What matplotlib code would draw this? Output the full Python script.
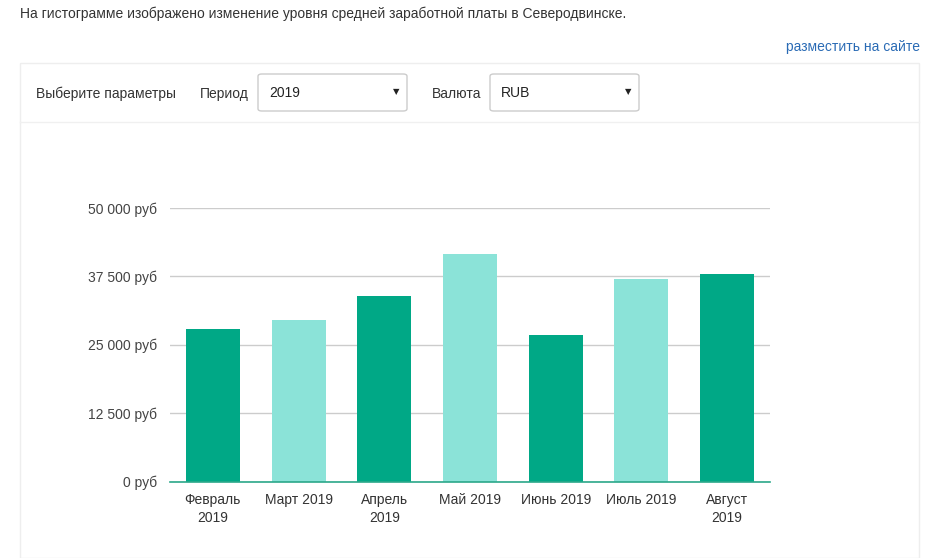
import matplotlib
matplotlib.use("Agg")
import matplotlib.pyplot as plt
from matplotlib.patches import Rectangle, FancyBboxPatch

plt.rcParams['font.family'] = ['Liberation Sans', 'DejaVu Sans']

categories = ["Февраль\n2019", "Март 2019", "Апрель\n2019", "Май 2019",
              "Июнь 2019", "Июль 2019", "Август\n2019"]
values = [27800, 29500, 33850, 41550, 26750, 36950, 37950]
bar_colors = ["#00a886", "#8be3d8", "#00a886", "#8be3d8",
              "#00a886", "#8be3d8", "#00a886"]
yticks = [0, 12500, 25000, 37500, 50000]
ytick_labels = ["0 руб", "12 500 руб", "25 000 руб", "37 500 руб", "50 000 руб"]

W, H = 949, 558
FS = 10.0
fig = plt.figure(figsize=(W / 100, H / 100), dpi=100)
fig.patch.set_facecolor("white")

def fx(x):
    return x / W

def fy(y):
    return 1 - y / H

# Header text
fig.text(fx(20), fy(14), "На гистограмме изображено изменение уровня средней заработной платы в Северодвинске.",
         fontsize=FS, color="#333333", ha="left", va="center")
fig.text(fx(920), fy(47), "разместить на сайте", fontsize=FS, color="#2a6bb5",
         ha="right", va="center")

# Panel border
fig.patches.append(Rectangle((fx(20), fy(558)), fx(899), fy(63) - fy(558),
                             transform=fig.transFigure, fill=False,
                             edgecolor="#eeeeee", linewidth=1))
fig.add_artist(plt.Line2D([fx(20), fx(919)], [fy(122), fy(122)],
                          transform=fig.transFigure, color="#f0f0f0", linewidth=1))

fig.text(fx(36), fy(94), "Выберите параметры", fontsize=FS, color="#333333", ha="left", va="center")
fig.text(fx(200), fy(94), "Период", fontsize=FS, color="#333333", ha="left", va="center")
fig.text(fx(432), fy(94), "Валюта", fontsize=FS, color="#333333", ha="left", va="center")

def select_box(x0, x1, label):
    box = FancyBboxPatch((fx(x0), fy(111)), fx(x1 - x0), fy(74) - fy(111),
                         boxstyle="round,pad=0,rounding_size=0.004",
                         transform=fig.transFigure, facecolor="white",
                         edgecolor="#cccccc", linewidth=1)
    fig.patches.append(box)
    fig.text(fx(x0 + 11), fy(93), label, fontsize=FS, color="#222222", ha="left", va="center")
    fig.text(fx(x1 - 8), fy(92), "▼", fontsize=6, color="#222222", ha="right", va="center",
             family=['DejaVu Sans'])

select_box(258, 407, "2019")
select_box(490, 639, "RUB")

# Chart axes
left, right = 170, 770
top, bottom = 208, 481.5
ax = fig.add_axes([fx(left), fy(bottom), fx(right - left), fy(top) - fy(bottom)])
x = list(range(len(categories)))
ax.bar(x, values, width=0.63, color=bar_colors, zorder=3)
ax.set_xlim(-0.5, len(categories) - 0.5)
ax.set_ylim(0, 50000)
ax.set_yticks(yticks)
ax.set_yticklabels(ytick_labels, fontsize=FS, color="#444444")
ax.set_xticks(x)
ax.set_xticklabels(categories, fontsize=FS, color="#333333", linespacing=1.4, va="top")
ax.tick_params(axis="both", length=0)
ax.tick_params(axis="y", pad=9)
ax.tick_params(axis="x", pad=8)
ax.grid(axis="y", color="#cccccc", linewidth=1, zorder=0)
for s in ["top", "right", "left"]:
    ax.spines[s].set_visible(False)
ax.spines["bottom"].set_color("#2ba88a")
ax.spines["bottom"].set_linewidth(1.2)
ax.spines["bottom"].set_zorder(4)
ax.set_facecolor("none")

fig.savefig("out.png", dpi=100, facecolor="white")
